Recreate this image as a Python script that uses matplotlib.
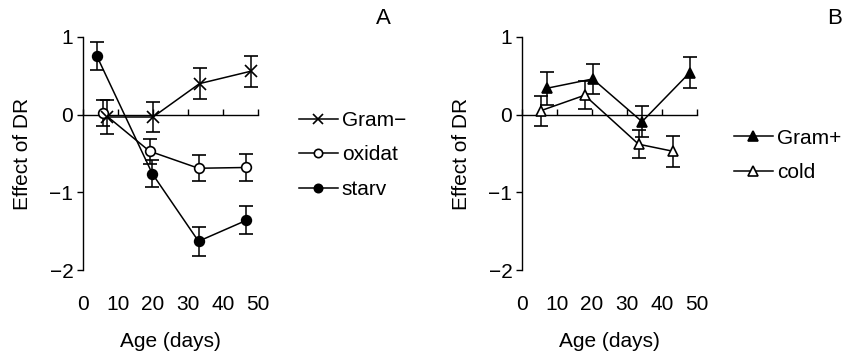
import matplotlib
matplotlib.use("Agg")
import matplotlib.pyplot as plt
from matplotlib.lines import Line2D

plt.rcParams['font.family'] = ['Liberation Sans', 'DejaVu Sans']
plt.rcParams['font.size'] = 15

# Panel A data
gramn_x = [6.9, 20.0, 33.3, 48.0]
gramn_y = [-0.03, -0.03, 0.40, 0.56]
gramn_e = [0.22, 0.19, 0.20, 0.20]

oxid_x = [5.8, 19.0, 33.0, 46.7]
oxid_y = [0.02, -0.47, -0.69, -0.68]
oxid_e = [0.17, 0.16, 0.17, 0.17]

starv_x = [3.9, 19.8, 33.0, 46.7]
starv_y = [0.76, -0.76, -1.63, -1.36]
starv_e = [0.18, 0.17, 0.19, 0.18]

# Panel B data
gramp_x = [7.1, 20.2, 34.3, 47.9]
gramp_y = [0.34, 0.46, -0.09, 0.54]
gramp_e = [0.21, 0.19, 0.20, 0.20]

cold_x = [5.3, 17.9, 33.3, 43.0]
cold_y = [0.05, 0.25, -0.38, -0.47]
cold_e = [0.19, 0.18, 0.18, 0.20]

xticks = [0, 10, 20, 30, 40, 50]
yticks = [-2, -1, 0, 1]

W, H = 846, 353
fig = plt.figure(figsize=(W / 100, H / 100), dpi=100)


def make_axes(left_px):
    ax = fig.add_axes([left_px / W, 1 - 270 / H, 175 / W, (270 - 37) / H])
    ax.set_xlim(0, 50)
    ax.set_ylim(-2, 1)
    for s in ['top', 'right']:
        ax.spines[s].set_visible(False)
    ax.spines['bottom'].set_position(('data', 0))
    ax.spines['bottom'].set_bounds(0, 50)
    ax.spines['left'].set_bounds(-2, 1)
    for s in ['bottom', 'left']:
        ax.spines[s].set_linewidth(1.0)
    ax.set_xticks(xticks)
    ax.set_yticks(yticks)
    ax.tick_params(axis='x', direction='in', length=4, width=1.0,
                   pad=(296 - 116) * 0.72)
    ax.tick_params(axis='y', direction='out', length=4, width=1.0, pad=3)
    ax.set_ylabel('Effect of DR')
    ax.set_xlabel('Age (days)')
    ax.xaxis.set_label_coords(0.5, -0.265)
    ax.yaxis.set_label_coords(-0.29, 0.5)
    return ax


def series(ax, x, y, e, marker, mfc, ms):
    ax.errorbar(x, y, yerr=e, color='black', lw=1.1, marker=marker,
                mfc=mfc, mec='black', ms=ms, mew=1.2, capsize=5,
                capthick=1.1, elinewidth=1.1, clip_on=False, zorder=3)


axA = make_axes(83)
series(axA, starv_x, starv_y, starv_e, 'o', 'black', 7)
series(axA, oxid_x, oxid_y, oxid_e, 'o', 'white', 7)
series(axA, gramn_x, gramn_y, gramn_e, 'x', 'black', 8)

axB = make_axes(522)
series(axB, gramp_x, gramp_y, gramp_e, '^', 'black', 7.5)
series(axB, cold_x, cold_y, cold_e, '^', 'white', 7.5)

legkw = dict(frameon=False, loc='center left', borderpad=0, borderaxespad=0,
             handlelength=1.85, handletextpad=0.2, labelspacing=0.75,
             bbox_transform=fig.transFigure)
hA = [Line2D([], [], color='black', lw=1.1, marker='x', ms=7, mew=1.2),
      Line2D([], [], color='black', lw=1.1, marker='o', mfc='white', ms=6, mew=1.2),
      Line2D([], [], color='black', lw=1.1, marker='o', mfc='black', ms=6, mew=1.2)]
axA.legend(hA, ['Gram\u2212', 'oxidat', 'starv'],
           bbox_to_anchor=(299 / W, 1 - 155 / H), **legkw)
hB = [Line2D([], [], color='black', lw=1.1, marker='^', mfc='black', ms=6.5, mew=1.2),
      Line2D([], [], color='black', lw=1.1, marker='^', mfc='white', ms=6.5, mew=1.2)]
axB.legend(hB, ['Gram+', 'cold'],
           bbox_to_anchor=(734 / W, 1 - 155.5 / H), **legkw)

fig.text(383 / W, 1 - 18 / H, 'A', ha='center', va='center', fontsize=16)
fig.text(835 / W, 1 - 18 / H, 'B', ha='center', va='center', fontsize=16)

fig.savefig('out.png', dpi=100)
